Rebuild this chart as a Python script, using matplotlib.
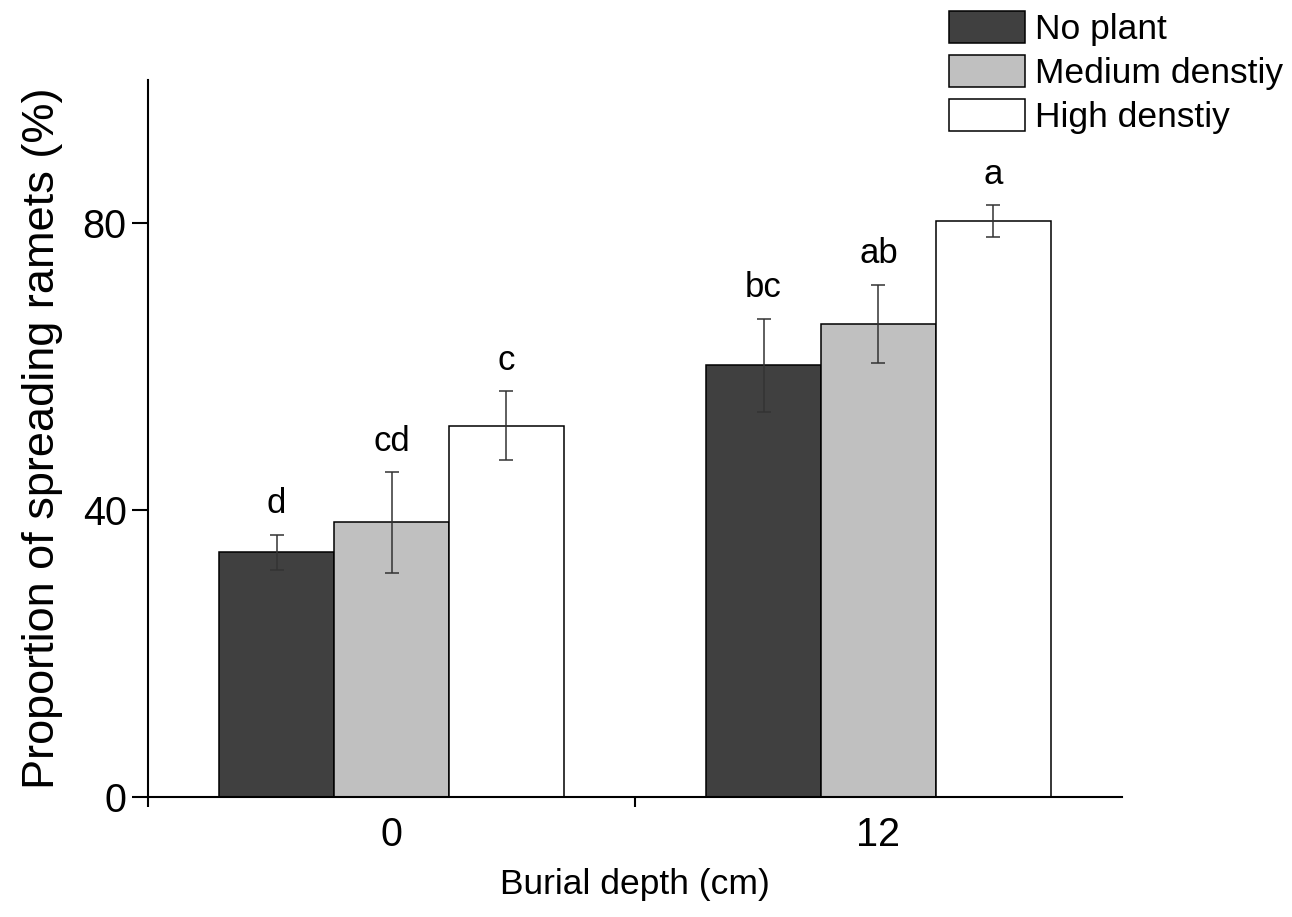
import matplotlib
matplotlib.use("Agg")
import matplotlib.pyplot as plt
import numpy as np

plt.rcParams['font.family'] = ['Liberation Sans', 'DejaVu Sans']

# ====================== DATOS ======================
depths = ["0", "12"]
series_names = ["No plant", "Medium denstiy", "High denstiy"]
series_colors = ["#404040", "#c0c0c0", "#ffffff"]

no_plant = [34.1, 60.2]
medium = [38.3, 66.0]
high = [51.8, 80.3]

no_plant_err = [2.45, 6.5]
medium_err = [7.0, 5.45]
high_err = [4.75, 2.2]

letters_no_plant = ["d", "bc"]
letters_medium = ["cd", "ab"]
letters_high = ["c", "a"]

# ====================== FIGURA ======================
fig = plt.figure(figsize=(12.92, 9.17), dpi=100)
ax = fig.add_axes([0.1146, 0.1309, 0.7538, 0.7819])

x = np.arange(len(depths))
w = 0.236

means = [no_plant, medium, high]
errs = [no_plant_err, medium_err, high_err]
letters = [letters_no_plant, letters_medium, letters_high]

for i in range(3):
    pos = x + (i - 1) * w
    ax.bar(pos, means[i], width=w, color=series_colors[i], edgecolor="black",
           linewidth=1.1, label=series_names[i], zorder=2)
    ax.errorbar(pos, means[i], yerr=errs[i], fmt="none", ecolor="#333333",
                elinewidth=1.1, capsize=5, capthick=1.1, zorder=3)
    # letras de significancia encima de la barra de error
    for p, m, e, t in zip(pos, means[i], errs[i], letters[i]):
        ax.text(p, m + e + 3.0, t, ha="center", va="baseline", fontsize=25)

ax.set_xlim(-0.5, 1.5)
ax.set_ylim(0, 100)
ax.set_yticks([0, 40, 80])
ax.set_xticks(x)
ax.set_xticklabels(depths)
ax.set_xticks([-0.5, 0.5], minor=True)

ax.tick_params(axis="y", direction="out", length=11.5, width=1.5, labelsize=28.5, pad=4)
ax.tick_params(axis="x", which="major", length=0, labelsize=28.5, pad=14)
ax.tick_params(axis="x", which="minor", direction="out", length=7, width=1.5)

for s in ["top", "right"]:
    ax.spines[s].set_visible(False)
for s in ["left", "bottom"]:
    ax.spines[s].set_linewidth(1.5)

ax.set_ylabel("Proportion of spreading ramets (%)", fontsize=32.5, labelpad=14)
ax.set_xlabel("Burial depth (cm)", fontsize=25.5, labelpad=10)

fig.legend(loc="upper left", bbox_to_anchor=(0.7260, 1.0), frameon=False,
           fontsize=25.5, handlelength=2.15, handleheight=1.03,
           handletextpad=0.3, labelspacing=0.25, borderpad=0.3, borderaxespad=0)

fig.savefig("out.png", dpi=100)
